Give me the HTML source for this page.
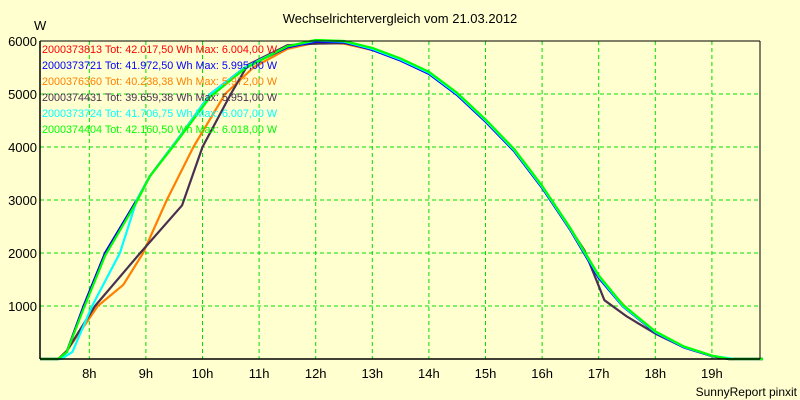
<!DOCTYPE html>
<html><head><meta charset="utf-8">
<style>
html,body{margin:0;padding:0;background:#ffffd0;}
svg{display:block;font-family:"Liberation Sans",sans-serif;}
</style></head>
<body>
<svg id="chart" width="800" height="400" viewBox="0 0 800 400">
<rect x="0" y="0" width="800" height="400" fill="#ffffd0"/>
<text x="400" y="23" font-size="13" text-anchor="middle" fill="#000">Wechselrichtervergleich vom 21.03.2012</text>
<text x="34" y="30" font-size="13" fill="#000">W</text>
<text x="797" y="396" font-size="12" text-anchor="end" fill="#000">SunnyReport pinxit</text>
<g id="grid"></g>
<g id="ylabels"></g>
<g id="xlabels"></g>
<g id="series"></g>
<line x1="40" y1="41" x2="40" y2="359" stroke="#000" stroke-width="1.5"/>
<line x1="40" y1="359" x2="760" y2="359" stroke="#000" stroke-width="1.5"/>
<line x1="760" y1="41" x2="760" y2="359" stroke="#000" stroke-width="1"/>
<line x1="40" y1="41" x2="760" y2="41" stroke="#000" stroke-width="1"/>
<g id="legend"></g>
</svg>
<script>
const yTicks = [1000, 2000, 3000, 4000, 5000, 6000];
const xTicks = [8, 9, 10, 11, 12, 13, 14, 15, 16, 17, 18, 19];
const seriesNames = ["2000373813 Tot: 42.017,50 Wh Max: 6.004,00 W","2000373721 Tot: 41.972,50 Wh Max: 5.995,00 W","2000376360 Tot: 40.238,38 Wh Max: 5.972,00 W","2000374431 Tot: 39.659,38 Wh Max: 5.951,00 W","2000373724 Tot: 41.706,75 Wh Max: 6.007,00 W","2000374404 Tot: 42.160,50 Wh Max: 6.018,00 W"];
const seriesColors = ["#ff0000","#0000ff","#ff8000","#4a3050","#00ffff","#00ff00"];
const hoursMain = [7.13,7.45,7.6,7.9,8.28,8.84,9.07,9.46,9.6,10.14,10.75,11.5,12,12.5,13,13.5,14,14.5,15,15.5,16,16.5,17,17.43,18,18.5,19,19.3,19.9];
const redVals   = [0,0,130,1000,2000,3000,3450,4000,4200,5000,5500,5900,6000,5990,5850,5650,5400,5000,4500,3950,3250,2450,1550,1000,510,230,60,0,0];
const blueVals  = [0,0,130,1000,2000,3000,3450,4000,4200,5000,5500,5880,5990,5980,5830,5630,5380,4980,4480,3930,3230,2430,1530,990,500,220,55,0,0];
const greenVals = [0,0,130,950,1950,2970,3450,3980,4180,4950,5480,5900,6018,6000,5870,5670,5420,5020,4520,3970,3270,2470,1580,1020,520,240,65,0,0];
const hoursOrange = [7.13,7.45,7.6,8.15,8.6,8.95,9.37,9.84,10.4,10.9,11.5,12,12.5,13,13.5,14,14.5,15,15.5,16,16.5,17,17.5,18,18.5,19,19.3,19.9];
const orangeVals  = [0,0,150,1000,1400,2000,3000,4000,5000,5500,5850,5972,5950,5830,5630,5380,4980,4480,3930,3230,2430,1530,950,500,220,55,0,0];
const hoursBlack = [7.13,7.45,7.6,8.1,8.9,9.64,10.0,10.5,10.8,11.5,12,12.5,13,13.5,14,14.5,15,15.5,16,16.5,16.75,17.1,17.5,18,18.5,19,19.3,19.9];
const blackVals  = [0,0,150,1000,2000,2900,4000,5000,5550,5920,5951,5960,5850,5650,5400,4980,4480,3930,3230,2450,2050,1110,800,480,220,55,0,0];
const hoursCyan = [7.13,7.5,7.7,8.05,8.54,8.84,9.07,9.46,9.6,10.14,10.75,11.5,12,12.5,13,13.5,14,14.5,15,15.5,16,16.5,17,17.43,18,18.5,19,19.4,19.9];
const cyanVals  = [0,0,130,1000,2000,3000,3450,4000,4200,5000,5500,5900,6007,5990,5850,5650,5400,5000,4500,3950,3250,2450,1560,1000,510,230,60,0,0];

const X0 = 89.3, XPH = 56.6, Y0 = 359, YP = 0.053;
function xScale(h){ return X0 + (h - 8) * XPH; }
function yScale(v){ return Y0 - v * YP; }
const NS = "http://www.w3.org/2000/svg";
function mk(tag, parent){ const e = document.createElementNS(NS, tag); parent.appendChild(e); return e; }

const grid = document.getElementById('grid');
const yl = document.getElementById('ylabels');
yTicks.forEach(v => {
  const l = mk('line', grid);
  
  
  l.setAttribute('x1', 40); l.setAttribute('x2', 760);
  l.setAttribute('y1', yScale(v)); l.setAttribute('y2', yScale(v));
  l.setAttribute('stroke', '#00e000'); l.setAttribute('stroke-dasharray', '4,3');
  const t = mk('text', yl);
  
  
  t.setAttribute('x', 37); t.setAttribute('y', yScale(v) + 5);
  t.setAttribute('font-size', '13'); t.setAttribute('text-anchor', 'end');
  t.textContent = v;
});
const xl = document.getElementById('xlabels');
xTicks.forEach(h => {
  const l = mk('line', grid);
  
  
  l.setAttribute('x1', xScale(h)); l.setAttribute('x2', xScale(h));
  l.setAttribute('y1', 41); l.setAttribute('y2', 359);
  l.setAttribute('stroke', '#00e000'); l.setAttribute('stroke-dasharray', '4,3');
  const t = mk('text', xl);
  
  
  t.setAttribute('x', xScale(h)); t.setAttribute('y', 378);
  t.setAttribute('font-size', '13'); t.setAttribute('text-anchor', 'middle');
  t.textContent = h + 'h';
});

const ser = document.getElementById('series');
const drawList = [
  [hoursOrange, orangeVals, 2, 'series-2000376360'],
  [hoursBlack, blackVals, 3, 'series-2000374431'],
  [hoursMain, redVals, 0, 'series-2000373813'],
  [hoursMain, blueVals, 1, 'series-2000373721'],
  [hoursCyan, cyanVals, 4, 'series-2000373724'],
  [hoursMain, greenVals, 5, 'series-2000374404']
];
drawList.forEach(([hs, vs, ci, nm]) => {
  const p = mk('polyline', ser);
  
  
  p.setAttribute('points', hs.map((h, i) => xScale(h).toFixed(1) + ',' + yScale(vs[i]).toFixed(1)).join(' '));
  p.setAttribute('fill', 'none'); p.setAttribute('stroke', seriesColors[ci]);
  p.setAttribute('stroke-width', '2.2'); p.setAttribute('stroke-linejoin', 'round');
});

const lg = document.getElementById('legend');
seriesNames.forEach((n, i) => {
  const t = mk('text', lg);
  
  
  t.setAttribute('x', 42); t.setAttribute('y', 53 + i * 16);
  t.setAttribute('font-size', '10.8'); t.setAttribute('fill', seriesColors[i]);
  t.textContent = n;
});
</script>
</body></html>
